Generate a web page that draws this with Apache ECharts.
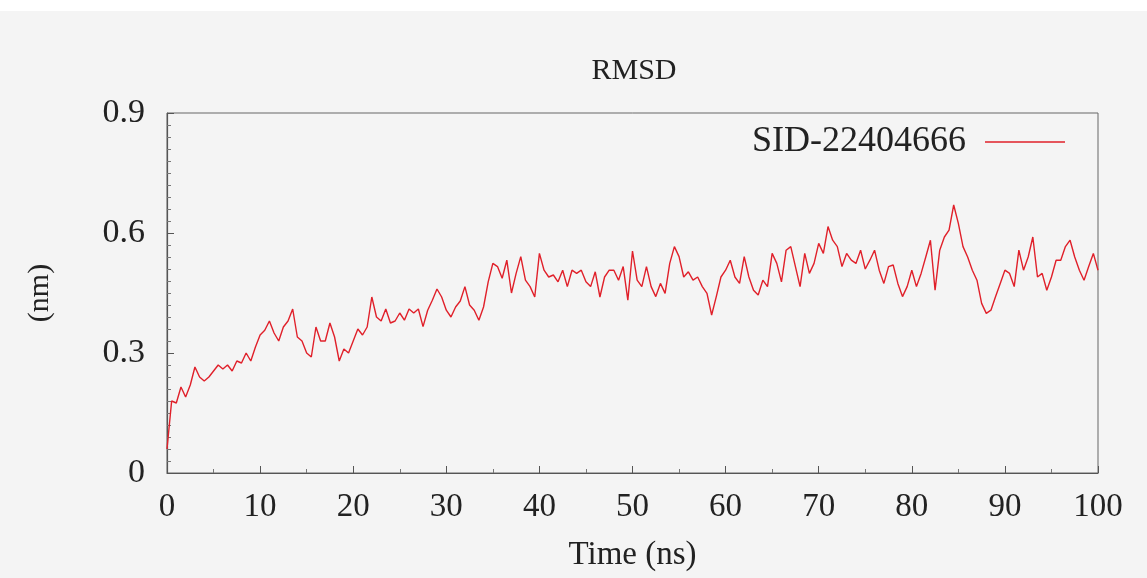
<!DOCTYPE html>
<html lang="en">
<head>
<meta charset="UTF-8">
<title>RMSD</title>
<script src="https://cdn.jsdelivr.net/npm/echarts@6/dist/echarts.min.js"></script>
<style>
  html, body { margin: 0; padding: 0; background: #f4f4f4; }
  #main { width: 1147px; height: 578px; }
</style>
</head>
<body>
<div id="main"></div>
<script>
// RMSD trajectory, one sample every 0.5 ns
var seriesName = 'SID-22404666';
var startNs = 0;
var stepNs = 0.5;
var rmsd = [
  0.06, 0.18, 0.175, 0.215, 0.19, 0.22, 0.265, 0.24, 0.23, 0.24,
  0.255, 0.27, 0.26, 0.27, 0.255, 0.28, 0.275, 0.30, 0.28, 0.315,
  0.345, 0.357, 0.38, 0.35, 0.33, 0.365, 0.38, 0.41, 0.34, 0.33,
  0.30, 0.29, 0.365, 0.33, 0.33, 0.375, 0.34, 0.28, 0.31, 0.30,
  0.33, 0.36, 0.345, 0.365, 0.44, 0.39, 0.38, 0.41, 0.375, 0.38,
  0.40, 0.382, 0.41, 0.40, 0.41, 0.366, 0.407, 0.432, 0.46, 0.44,
  0.407, 0.39, 0.415, 0.43, 0.466, 0.42, 0.407, 0.382, 0.415, 0.478,
  0.524, 0.516, 0.487, 0.532, 0.45, 0.499, 0.541, 0.482, 0.466, 0.44,
  0.549, 0.507, 0.49, 0.495, 0.478, 0.507, 0.466, 0.507, 0.499, 0.507,
  0.478, 0.466, 0.503, 0.44, 0.49, 0.507, 0.507, 0.482, 0.516, 0.432,
  0.555, 0.482, 0.466, 0.516, 0.466, 0.441, 0.474, 0.449, 0.524, 0.566,
  0.541, 0.49, 0.503, 0.482, 0.49, 0.466, 0.449, 0.395, 0.441, 0.49,
  0.507, 0.532, 0.49, 0.474, 0.541, 0.49, 0.457, 0.445, 0.482, 0.466,
  0.549, 0.524, 0.478, 0.557, 0.566, 0.516, 0.466, 0.549, 0.499, 0.524,
  0.574, 0.549, 0.616, 0.582, 0.566, 0.516, 0.549, 0.532, 0.524, 0.557,
  0.51, 0.532, 0.557, 0.507, 0.474, 0.516, 0.52, 0.474, 0.441, 0.466,
  0.507, 0.466, 0.499, 0.54, 0.582, 0.457, 0.557, 0.59, 0.607, 0.67,
  0.624, 0.566, 0.54, 0.507, 0.482, 0.424, 0.399, 0.407, 0.441, 0.474,
  0.507, 0.499, 0.466, 0.557, 0.507, 0.54, 0.59, 0.49, 0.499, 0.457,
  0.49, 0.532, 0.532, 0.566, 0.582, 0.54, 0.507, 0.482, 0.516, 0.549,
  0.507
];

var points = rmsd.map(function (v, i) {
  return [startNs + i * stepNs, v];
});

var serif = '"Liberation Serif", "DejaVu Serif", serif';
var chart = echarts.init(document.getElementById('main'));

var option = {
  backgroundColor: '#f4f4f4',
  animation: false,
  textStyle: { fontFamily: serif, color: '#222' },
  graphic: [
    { type: 'rect', left: 0, top: 0, shape: { width: 1147, height: 11 }, style: { fill: '#ffffff' } },
    { type: 'text', x: 634, y: 56, style: { text: 'RMSD', font: '30px ' + serif, fill: '#222', align: 'center', textAlign: 'center' } }
  ],
  grid: {
    left: 167, right: 49, top: 113, bottom: 105,
    show: true, borderColor: '#666', borderWidth: 1, backgroundColor: 'transparent'
  },
  legend: {
    data: [seriesName],
    right: 77, top: 119,
    align: 'right',
    icon: 'rect',
    itemWidth: 80, itemHeight: 1.5,
    textStyle: { fontFamily: serif, fontSize: 36, color: '#222', padding: [0, 14, 0, 0] }
  },
  xAxis: {
    type: 'value',
    min: 0, max: 100, interval: 10,
    name: 'Time (ns)',
    nameLocation: 'middle',
    nameGap: 66,
    nameTextStyle: { fontFamily: serif, fontSize: 33, color: '#222' },
    axisLine: { lineStyle: { color: '#555', width: 1.2 } },
    axisTick: { inside: true, length: 7, lineStyle: { color: '#555' } },
    minorTick: { show: true, splitNumber: 2, length: 4, lineStyle: { color: '#777' } },
    axisLabel: { fontFamily: serif, fontSize: 33, color: '#222', margin: 18 },
    splitLine: { show: false }
  },
  yAxis: {
    type: 'value',
    min: 0, max: 0.9, interval: 0.3,
    name: '(nm)',
    nameLocation: 'middle',
    nameGap: 112,
    nameTextStyle: { fontFamily: serif, fontSize: 30, color: '#222' },
    axisLine: { show: true, lineStyle: { color: '#555', width: 1.2 } },
    axisTick: { show: true, inside: true, length: 7, lineStyle: { color: '#555' } },
    minorTick: { show: true, splitNumber: 10, length: 4, lineStyle: { color: '#777' } },
    axisLabel: { fontFamily: serif, fontSize: 34, color: '#222', margin: 22 },
    splitLine: { show: false }
  },
  series: [{
    name: seriesName,
    type: 'line',
    data: points,
    showSymbol: false,
    symbol: 'none',
    lineStyle: { color: '#e0202a', width: 1.4 },
    itemStyle: { color: '#e0202a' }
  }]
};
chart.setOption(option);
</script>
</body>
</html>
